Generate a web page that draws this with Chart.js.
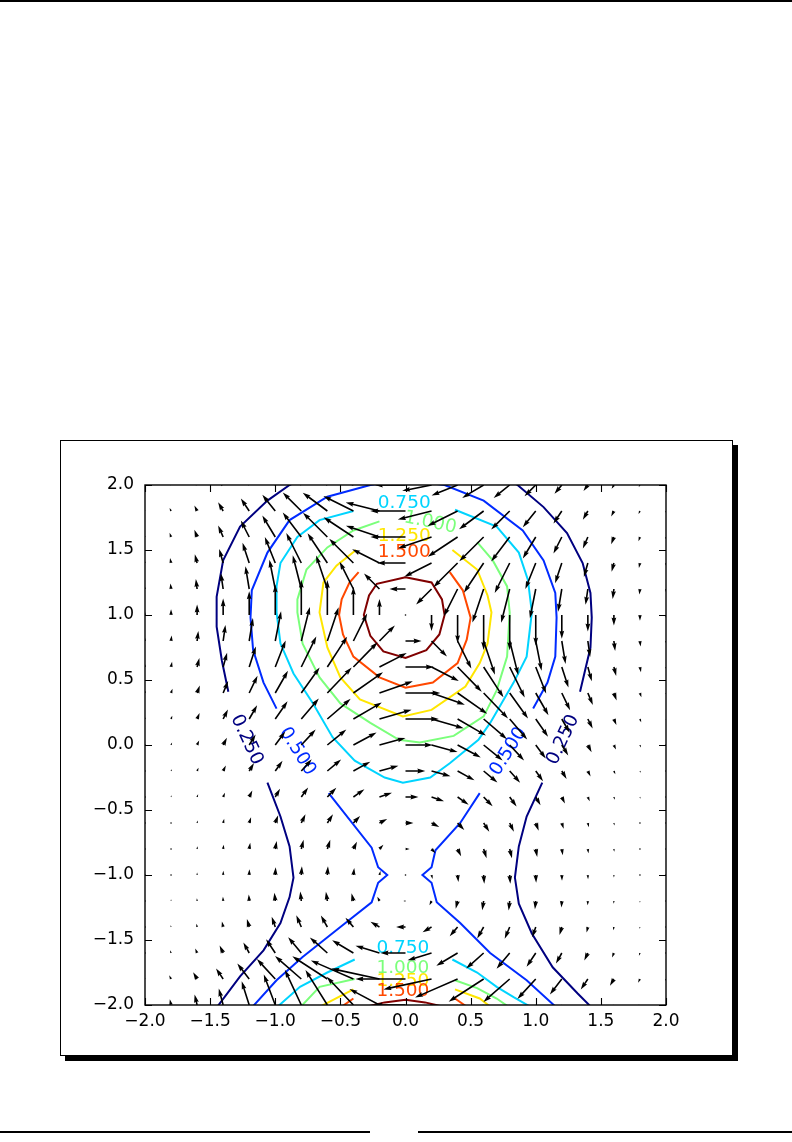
<!DOCTYPE html>
<html><head><meta charset="utf-8">
<script src="https://cdn.jsdelivr.net/npm/chart.js@4.4.0/dist/chart.umd.min.js"></script>
<style>
html,body{margin:0;padding:0;background:#fff;}
body{width:792px;height:1142px;position:relative;overflow:hidden;font-family:"DejaVu Sans";}
#topRule{position:absolute;left:0;top:0;width:792px;height:2px;background:#000;}
.botRule{position:absolute;top:1131px;height:2px;background:#000;}
#frameBox{position:absolute;left:60px;top:440px;width:673px;height:616px;box-sizing:border-box;border:1px solid #000;box-shadow:5px 5px 0 #000;background:#fff;}
#c{position:absolute;left:0;top:0;}
</style></head><body>
<div id="topRule"></div>
<div class="botRule" style="left:0;width:370px"></div>
<div class="botRule" style="left:418px;width:374px"></div>
<div id="frameBox"></div>
<canvas id="c" width="792" height="1142"></canvas>
<script>
// ---------- tick values ----------
const xTicks = [-2.0,-1.5,-1.0,-0.5,0.0,0.5,1.0,1.5,2.0];
const yTicks = [-2.0,-1.5,-1.0,-0.5,0.0,0.5,1.0,1.5,2.0];

// ---------- contour levels ----------
const levelValues = [0.25,0.5,0.75,1.0,1.25,1.5,1.75];
const levelColors = ['#000080','#002bff','#00d4ff','#7bff7b','#ffe600','#ff4800','#800000'];

// ---------- contour paths (data coords) ----------
const c025Top = [[-1.36,0.41],[-1.41,0.65],[-1.45,0.91],[-1.45,1.14],[-1.40,1.42],[-1.27,1.68],[-1.06,1.88],[-0.89,2.0],[-0.5,2.2],[0,2.26],[0.5,2.2],[0.86,2.0],[1.06,1.83],[1.24,1.63],[1.36,1.40],[1.42,1.17],[1.43,0.98],[1.42,0.75],[1.34,0.41]];
const c025LowL = [[-1.06,-0.29],[-0.96,-0.55],[-0.89,-0.78],[-0.86,-1.02],[-0.89,-1.17],[-0.96,-1.37],[-1.09,-1.58],[-1.27,-1.78],[-1.45,-2.02]];
const c025LowR = [[1.05,-0.29],[0.93,-0.55],[0.87,-0.78],[0.84,-1.02],[0.87,-1.22],[0.97,-1.45],[1.13,-1.71],[1.32,-1.91],[1.43,-2.02]];
const c050Top = [[-0.99,0.28],[-1.09,0.48],[-1.17,0.73],[-1.19,0.98],[-1.18,1.19],[-1.06,1.48],[-0.89,1.73],[-0.60,1.91],[-0.27,2.0],[0,2.04],[0.30,2.0],[0.60,1.88],[0.90,1.65],[1.06,1.42],[1.15,1.17],[1.16,0.98],[1.15,0.68],[1.09,0.48],[0.98,0.28]];
const c050LowL = [[-0.59,-0.37],[-0.26,-0.79],[-0.21,-0.94],[-0.14,-1.0],[-0.21,-1.06],[-0.26,-1.21],[-0.50,-1.40],[-0.79,-1.63],[-0.99,-1.81],[-1.18,-2.02]];
const c050LowR = [[0.57,-0.37],[0.42,-0.60],[0.23,-0.81],[0.20,-0.94],[0.13,-1.0],[0.20,-1.06],[0.24,-1.21],[0.42,-1.37],[0.65,-1.60],[0.93,-1.81],[1.16,-2.02]];
const c075Top = [[-0.40,1.80],[-0.66,1.73],[-0.83,1.60],[-0.96,1.40],[-0.99,1.22],[-0.99,1.02],[-0.96,0.78],[-0.86,0.55],[-0.71,0.32],[-0.56,0.06],[-0.39,-0.12],[-0.16,-0.25],[-0.02,-0.29],[0.19,-0.25],[0.34,-0.14],[0.56,0.04],[0.65,0.17],[0.83,0.48],[0.93,0.68],[0.97,1.02],[0.94,1.27],[0.87,1.48],[0.70,1.68],[0.38,1.81]];
const c075LowL = [[-0.99,-2.02],[-0.81,-1.86],[-0.60,-1.75],[-0.39,-1.65]];
const c075LowR = [[0.36,-1.65],[0.55,-1.75],[0.70,-1.86],[0.83,-1.94],[0.97,-2.02]];
const c100Top = [[-0.20,1.72],[-0.40,1.65],[-0.60,1.52],[-0.76,1.35],[-0.83,1.12],[-0.83,1.02],[-0.79,0.78],[-0.66,0.52],[-0.50,0.32],[-0.27,0.17],[-0.05,0.04],[0.11,0.02],[0.37,0.07],[0.60,0.22],[0.70,0.42],[0.78,0.68],[0.80,1.02],[0.78,1.22],[0.67,1.42],[0.55,1.56]];
const c100LowL = [[-0.81,-2.02],[-0.66,-1.86],[-0.39,-1.80]];
const c100LowR = [[0.38,-1.81],[0.55,-1.87],[0.70,-1.95],[0.80,-2.02]];
const c125Top = [[-0.38,1.50],[-0.53,1.38],[-0.63,1.25],[-0.66,1.02],[-0.60,0.75],[-0.50,0.52],[-0.35,0.35],[-0.02,0.22],[0.20,0.27],[0.46,0.45],[0.57,0.63],[0.63,0.78],[0.66,1.02],[0.63,1.15],[0.55,1.35],[0.36,1.50]];
const c125LowL = [[-0.67,-2.02],[-0.40,-1.88]];
const c125LowR = [[0.38,-1.88],[0.57,-1.95],[0.66,-2.02]];
const c150Top = [[-0.36,1.33],[-0.43,1.25],[-0.49,1.12],[-0.51,1.0],[-0.48,0.85],[-0.40,0.68],[-0.20,0.52],[0,0.44],[0.21,0.48],[0.40,0.63],[0.47,0.81],[0.50,0.98],[0.44,1.19],[0.34,1.33]];
const c150LowL = [[-0.50,-2.02],[-0.40,-1.95]];
const c150LowR = [[0.38,-1.95],[0.48,-2.02]];
const c175Top = [[0,1.29],[0.20,1.25],[0.28,1.12],[0.30,1.00],[0.26,0.85],[0.16,0.73],[0,0.67],[-0.17,0.72],[-0.27,0.84],[-0.32,1.00],[-0.28,1.15],[-0.22,1.24],[0,1.29]];
const c175Low = [[-0.33,-2.02],[-0.16,-1.98],[0,-1.96],[0.15,-1.98],[0.32,-2.02]];

const contourPaths = [
  [0,c025Top],[0,c025LowL],[0,c025LowR],
  [1,c050Top],[1,c050LowL],[1,c050LowR],
  [2,c075Top],[2,c075LowL],[2,c075LowR],
  [3,c100Top],[3,c100LowL],[3,c100LowR],
  [4,c125Top],[4,c125LowL],[4,c125LowR],
  [5,c150Top],[5,c150LowL],[5,c150LowR],
  [6,c175Top],[6,c175Low]
];

// ---------- contour labels ----------
const labelLevel = [2,3,4,5,0,1,1,0,2,3,4,5];
const labelX     = [-0.01,0.19,-0.01,-0.01,-1.22,-0.83,0.79,1.21,-0.02,-0.02,-0.02,-0.02];
const labelY     = [1.86,1.71,1.61,1.48,0.04,-0.05,-0.05,0.04,-1.56,-1.72,-1.82,-1.89];
const labelAngle = [0,12,0,0,65,58,-58,-65,0,0,0,0];

// ---------- quiver grid ----------
const gridX = [-2.0,-1.8,-1.6,-1.4,-1.2,-1.0,-0.8,-0.6,-0.4,-0.2,0.0,0.2,0.4,0.6,0.8,1.0,1.2,1.4,1.6,1.8,2.0];
const gridY = [2.0,1.8,1.6,1.4,1.2,1.0,0.8,0.6,0.4,0.2,0.0,-0.2,-0.4,-0.6,-0.8,-1.0,-1.2,-1.4,-1.6,-1.8,-2.0];
const quiverU = [
 [-0.03,-0.06,-0.11,-0.21,-0.35,-0.54,-0.77,-1.03,-1.25,-1.41,-1.47,-1.41,-1.25,-1.03,-0.77,-0.54,-0.35,-0.21,-0.11,-0.06,-0.03],
 [-0.03,-0.07,-0.13,-0.24,-0.40,-0.62,-0.89,-1.18,-1.44,-1.62,-1.69,-1.62,-1.44,-1.18,-0.89,-0.62,-0.40,-0.24,-0.13,-0.07,-0.03],
 [-0.03,-0.07,-0.13,-0.24,-0.40,-0.62,-0.89,-1.17,-1.43,-1.61,-1.68,-1.61,-1.43,-1.17,-0.89,-0.62,-0.40,-0.24,-0.13,-0.07,-0.03],
 [-0.02,-0.05,-0.11,-0.19,-0.32,-0.50,-0.72,-0.95,-1.16,-1.31,-1.36,-1.31,-1.16,-0.95,-0.72,-0.50,-0.32,-0.19,-0.11,-0.05,-0.02],
 [-0.01,-0.03,-0.06,-0.11,-0.18,-0.28,-0.41,-0.54,-0.66,-0.74,-0.77,-0.74,-0.66,-0.54,-0.41,-0.28,-0.18,-0.11,-0.06,-0.03,-0.01],
 [0,0,0,0,0,0,0,0,0,0,0,0,0,0,0,0,0,0,0,0,0],
 [0.01,0.03,0.06,0.11,0.18,0.28,0.41,0.54,0.66,0.74,0.77,0.74,0.66,0.54,0.41,0.28,0.18,0.11,0.06,0.03,0.01],
 [0.02,0.05,0.11,0.19,0.32,0.50,0.72,0.95,1.16,1.31,1.36,1.31,1.16,0.95,0.72,0.50,0.32,0.19,0.11,0.05,0.02],
 [0.03,0.07,0.13,0.24,0.40,0.61,0.88,1.17,1.42,1.60,1.67,1.60,1.42,1.17,0.88,0.61,0.40,0.24,0.13,0.07,0.03],
 [0.03,0.06,0.12,0.23,0.38,0.59,0.84,1.12,1.36,1.54,1.60,1.54,1.36,1.12,0.84,0.59,0.38,0.23,0.12,0.06,0.03],
 [0.02,0.05,0.10,0.18,0.31,0.48,0.69,0.91,1.11,1.25,1.30,1.25,1.11,0.91,0.69,0.48,0.31,0.18,0.10,0.05,0.02],
 [0.02,0.04,0.07,0.13,0.23,0.35,0.50,0.66,0.81,0.91,0.95,0.91,0.81,0.66,0.50,0.35,0.23,0.13,0.07,0.04,0.02],
 [0.01,0.02,0.05,0.09,0.15,0.23,0.33,0.43,0.53,0.60,0.62,0.60,0.53,0.43,0.33,0.23,0.15,0.09,0.05,0.02,0.01],
 [0.01,0.01,0.03,0.05,0.09,0.14,0.20,0.27,0.32,0.37,0.38,0.37,0.32,0.27,0.20,0.14,0.09,0.05,0.03,0.01,0.01],
 [0,0.01,0.02,0.03,0.05,0.07,0.11,0.14,0.17,0.19,0.20,0.19,0.17,0.14,0.11,0.07,0.05,0.03,0.02,0.01,0],
 [0,0,0,0.01,0.01,0.02,0.03,0.03,0.04,0.05,0.05,0.05,0.04,0.03,0.03,0.02,0.01,0.01,0,0,0],
 [0,0,-0.01,-0.01,-0.02,-0.04,-0.05,-0.07,-0.09,-0.10,-0.10,-0.10,-0.09,-0.07,-0.05,-0.04,-0.02,-0.01,-0.01,0,0],
 [-0.01,-0.02,-0.03,-0.06,-0.11,-0.17,-0.24,-0.31,-0.38,-0.43,-0.45,-0.43,-0.38,-0.31,-0.24,-0.17,-0.11,-0.06,-0.03,-0.02,-0.01],
 [-0.02,-0.05,-0.09,-0.17,-0.28,-0.44,-0.63,-0.84,-1.02,-1.15,-1.20,-1.15,-1.02,-0.84,-0.63,-0.44,-0.28,-0.17,-0.09,-0.05,-0.02],
 [-0.04,-0.09,-0.19,-0.34,-0.57,-0.88,-1.26,-1.68,-2.04,-2.31,-2.40,-2.31,-2.04,-1.68,-1.26,-0.88,-0.57,-0.34,-0.19,-0.09,-0.04],
 [-0.03,-0.06,-0.12,-0.21,-0.36,-0.55,-0.79,-1.05,-1.28,-1.44,-1.50,-1.44,-1.28,-1.05,-0.79,-0.55,-0.36,-0.21,-0.12,-0.06,-0.03]
];
const quiverV = [
 [0.05,0.10,0.18,0.29,0.42,0.54,0.62,0.62,0.50,0.28,0,-0.28,-0.50,-0.62,-0.62,-0.54,-0.42,-0.29,-0.18,-0.10,-0.05],
 [0.08,0.15,0.26,0.42,0.60,0.78,0.89,0.88,0.72,0.41,0,-0.41,-0.72,-0.88,-0.89,-0.78,-0.60,-0.42,-0.26,-0.15,-0.08],
 [0.10,0.20,0.35,0.55,0.79,1.03,1.18,1.17,0.95,0.54,0,-0.54,-0.95,-1.17,-1.18,-1.03,-0.79,-0.55,-0.35,-0.20,-0.10],
 [0.12,0.24,0.42,0.67,0.97,1.25,1.44,1.43,1.16,0.66,0,-0.66,-1.16,-1.43,-1.44,-1.25,-0.97,-0.67,-0.42,-0.24,-0.12],
 [0.14,0.27,0.48,0.76,1.09,1.41,1.62,1.61,1.31,0.74,0,-0.74,-1.31,-1.61,-1.62,-1.41,-1.09,-0.76,-0.48,-0.27,-0.14],
 [0.15,0.28,0.50,0.79,1.14,1.47,1.69,1.68,1.36,0.77,0,-0.77,-1.36,-1.68,-1.69,-1.47,-1.14,-0.79,-0.50,-0.28,-0.15],
 [0.14,0.27,0.48,0.77,1.10,1.43,1.64,1.62,1.32,0.75,0,-0.75,-1.32,-1.62,-1.64,-1.43,-1.10,-0.77,-0.48,-0.27,-0.14],
 [0.13,0.25,0.43,0.69,0.99,1.28,1.47,1.46,1.19,0.67,0,-0.67,-1.19,-1.46,-1.47,-1.28,-0.99,-0.69,-0.43,-0.25,-0.13],
 [0.11,0.21,0.36,0.58,0.83,1.07,1.23,1.22,1.00,0.56,0,-0.56,-1.00,-1.22,-1.23,-1.07,-0.83,-0.58,-0.36,-0.21,-0.11],
 [0.08,0.16,0.29,0.46,0.66,0.85,0.98,0.97,0.79,0.45,0,-0.45,-0.79,-0.97,-0.98,-0.85,-0.66,-0.46,-0.29,-0.16,-0.08],
 [0.06,0.12,0.22,0.35,0.50,0.65,0.74,0.74,0.60,0.34,0,-0.34,-0.60,-0.74,-0.74,-0.65,-0.50,-0.35,-0.22,-0.12,-0.06],
 [0.05,0.09,0.16,0.26,0.38,0.49,0.56,0.55,0.45,0.25,0,-0.25,-0.45,-0.55,-0.56,-0.49,-0.38,-0.26,-0.16,-0.09,-0.05],
 [0.04,0.08,0.13,0.21,0.31,0.40,0.46,0.45,0.37,0.21,0,-0.21,-0.37,-0.45,-0.46,-0.40,-0.31,-0.21,-0.13,-0.08,-0.04],
 [0.04,0.07,0.12,0.20,0.28,0.37,0.42,0.42,0.34,0.19,0,-0.19,-0.34,-0.42,-0.42,-0.37,-0.28,-0.20,-0.12,-0.07,-0.04],
 [0.04,0.07,0.13,0.21,0.30,0.38,0.44,0.44,0.35,0.20,0,-0.20,-0.35,-0.44,-0.44,-0.38,-0.30,-0.21,-0.13,-0.07,-0.04],
 [0.04,0.07,0.12,0.20,0.28,0.37,0.42,0.42,0.34,0.19,0,-0.19,-0.34,-0.42,-0.42,-0.37,-0.28,-0.20,-0.12,-0.07,-0.04],
 [0.04,0.08,0.13,0.21,0.31,0.40,0.46,0.45,0.37,0.21,0,-0.21,-0.37,-0.45,-0.46,-0.40,-0.31,-0.21,-0.13,-0.08,-0.04],
 [0.05,0.09,0.16,0.26,0.38,0.49,0.56,0.55,0.45,0.25,0,-0.25,-0.45,-0.55,-0.56,-0.49,-0.38,-0.26,-0.16,-0.09,-0.05],
 [0.07,0.13,0.22,0.36,0.51,0.66,0.76,0.75,0.61,0.35,0,-0.35,-0.61,-0.75,-0.76,-0.66,-0.51,-0.36,-0.22,-0.13,-0.07],
 [0.09,0.18,0.32,0.51,0.74,0.96,1.10,1.09,0.89,0.50,0,-0.50,-0.89,-1.09,-1.10,-0.96,-0.74,-0.51,-0.32,-0.18,-0.09],
 [0.15,0.28,0.50,0.79,1.14,1.47,1.69,1.68,1.36,0.77,0,-0.77,-1.36,-1.68,-1.69,-1.47,-1.14,-0.79,-0.50,-0.28,-0.15]
];

// ---------- styles ----------
const FONT = '"DejaVu Sans", sans-serif';
const FONT_SIZE = 17;
const LABEL_FONT_SIZE = 18.5;
const QUIVER_SCALE = 0.16;   // data units per vector unit
const SHAFT_W = 1.6;

function fmt(v){ return (v < 0 ? '\u2212' : '') + Math.abs(v).toFixed(1); }

const datasets = contourPaths.map(([li, pts]) => ({
  data: pts.map(p => ({x:p[0], y:p[1]})),
  showLine: true, borderColor: levelColors[li], borderWidth: 2,
  pointRadius: 0, fill: false, tension: 0
}));

function drawArrow(ctx, x0, y0, x1, y1){
  const dx = x1-x0, dy = y1-y0, L = Math.hypot(dx, dy);
  const w = SHAFT_W, HL = 5*w, HW = 3*w, HAL = 4.5*w;
  if (L < w) { ctx.beginPath(); ctx.arc(x0, y0, w/2, 0, Math.PI*2); ctx.fill(); return; }
  let pts;
  if (L >= HL) pts = [[0,-w/2],[L-HAL,-w/2],[L-HL,-HW/2],[L,0],[L-HL,HW/2],[L-HAL,w/2],[0,w/2]];
  else { const s = L/HL; pts = [[0,-w/2],[HL-HAL,-w/2],[0,-HW/2],[HL,0],[0,HW/2],[HL-HAL,w/2],[0,w/2]].map(p=>[p[0]*s,p[1]*s]); }
  const c = dx/L, sn = dy/L;
  ctx.beginPath();
  pts.forEach((p,i)=>{ const X = x0 + p[0]*c - p[1]*sn, Y = y0 + p[0]*sn + p[1]*c; i?ctx.lineTo(X,Y):ctx.moveTo(X,Y); });
  ctx.closePath(); ctx.fill();
}

const overlayPlugin = {
  id: 'overlay',
  afterDatasetsDraw(chart){
    const ctx = chart.ctx, a = chart.chartArea, xs = chart.scales.x, ys = chart.scales.y;
    // contour labels
    ctx.save();
    ctx.font = LABEL_FONT_SIZE + 'px ' + FONT;
    ctx.textAlign = 'center'; ctx.textBaseline = 'middle';
    labelLevel.forEach((li, i) => {
      ctx.save();
      ctx.translate(xs.getPixelForValue(labelX[i]), ys.getPixelForValue(labelY[i]));
      ctx.rotate(labelAngle[i]*Math.PI/180);
      ctx.fillStyle = levelColors[li];
      ctx.fillText(levelValues[li].toFixed(3), 0, 0);
      ctx.restore();
    });
    ctx.restore();
    // quiver
    ctx.save();
    ctx.beginPath(); ctx.rect(a.left, a.top, a.right-a.left, a.bottom-a.top); ctx.clip();
    ctx.fillStyle = '#000';
    gridY.forEach((gy, r) => gridX.forEach((gx, c) => {
      const u = quiverU[r][c], v = quiverV[r][c];
      drawArrow(ctx, xs.getPixelForValue(gx), ys.getPixelForValue(gy),
                xs.getPixelForValue(gx + u*QUIVER_SCALE), ys.getPixelForValue(gy + v*QUIVER_SCALE));
    }));
    ctx.restore();
    // frame and inward ticks
    ctx.save();
    ctx.strokeStyle = '#000'; ctx.lineWidth = 1.4;
    ctx.strokeRect(a.left, a.top, a.right-a.left, a.bottom-a.top);
    ctx.lineWidth = 1.1;
    ctx.beginPath();
    xTicks.forEach(t => { const p = Math.round(xs.getPixelForValue(t))+0.5;
      ctx.moveTo(p, a.bottom); ctx.lineTo(p, a.bottom-7); ctx.moveTo(p, a.top); ctx.lineTo(p, a.top+7); });
    yTicks.forEach(t => { const p = Math.round(ys.getPixelForValue(t))+0.5;
      ctx.moveTo(a.left, p); ctx.lineTo(a.left+7, p); ctx.moveTo(a.right, p); ctx.lineTo(a.right-7, p); });
    ctx.stroke();
    ctx.restore();
  }
};

const tickCommon = {
  autoSkip: false, maxRotation: 0, color: '#000',
  font: { family: FONT, size: FONT_SIZE },
  callback: v => fmt(v)
};

new Chart(document.getElementById('c').getContext('2d'), {
  type: 'scatter',
  data: { datasets },
  options: {
    responsive: false, animation: false, events: [],
    layout: { padding: { left: 85, top: 485, right: 126, bottom: 77 } },
    plugins: { legend: { display: false }, tooltip: { enabled: false } },
    scales: {
      x: { type: 'linear', min: -2, max: 2,
           afterBuildTicks: s => { s.ticks = xTicks.map(v => ({ value: v })); },
           afterFit: s => { s.height = 60; },
           ticks: Object.assign({ padding: 6 }, tickCommon),
           grid: { display: false, drawTicks: false }, border: { display: false } },
      y: { type: 'linear', min: -2, max: 2,
           afterBuildTicks: s => { s.ticks = yTicks.map(v => ({ value: v })); },
           afterFit: s => { s.width = 60; },
           ticks: Object.assign({ padding: 11 }, tickCommon),
           grid: { display: false, drawTicks: false }, border: { display: false } }
    }
  },
  plugins: [overlayPlugin]
});
</script>
</body></html>
